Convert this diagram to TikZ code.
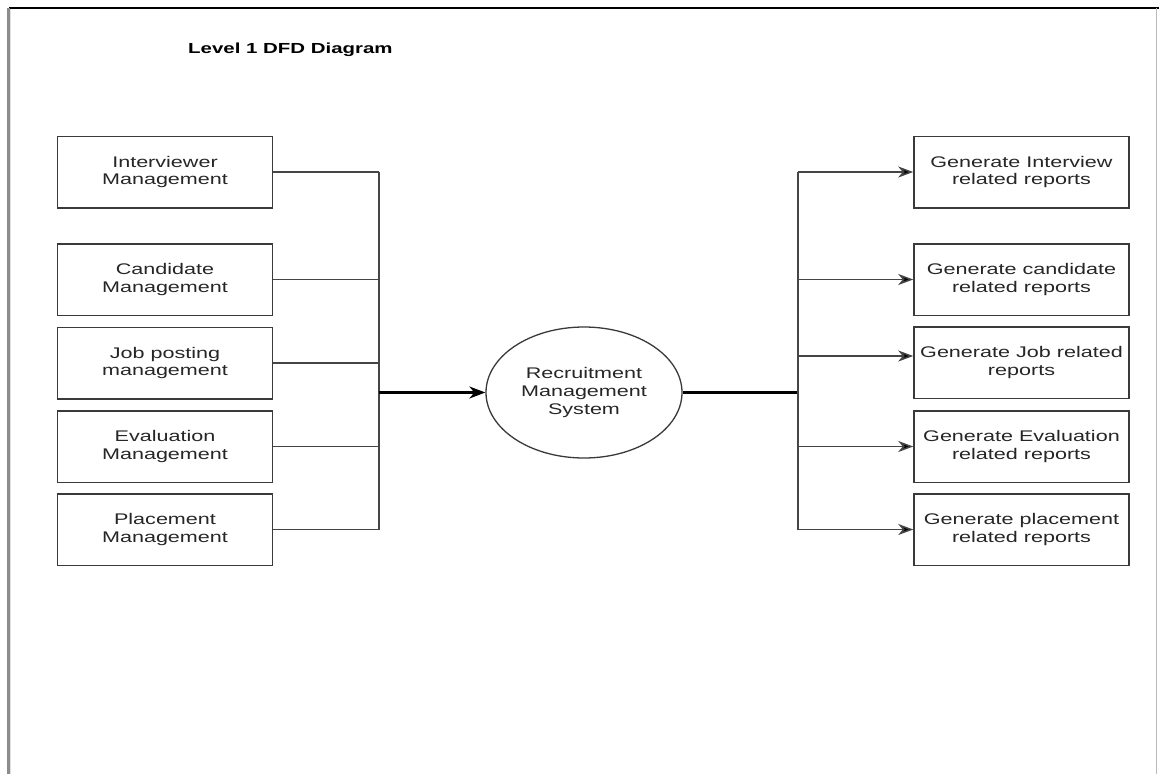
\documentclass[tikz,border=0pt]{standalone}
\usepackage{fontspec}
\setmainfont{Liberation Sans}[FakeStretch=1.4]
\usetikzlibrary{shapes.geometric,arrows.meta}
\definecolor{ink}{HTML}{262626}
\definecolor{edge}{HTML}{3A3A3A}
\definecolor{wire}{HTML}{454545}
\begin{document}
\begin{tikzpicture}[x=1pt,y=-1pt,
  procbox/.style={draw=edge,line width=1.5pt,minimum width=215pt,minimum height=71.5pt,
    inner sep=0pt,align=center,text=ink,font=\fontsize{15.4}{17.7}\selectfont},
  hub/.style={ellipse,draw=edge,line width=1.3pt,minimum width=196pt,minimum height=131pt,
    inner sep=0pt,align=center,text=ink,font=\fontsize{15.4}{17.7}\selectfont},
  wireline/.style={draw=wire,line width=1.5pt},
  feed/.style={wireline,-{Stealth[length=15pt,width=11pt,inset=4.5pt,fill=black]}},
  mainline/.style={draw=black,line width=2.2pt},
  mainfeed/.style={mainline,-{Stealth[length=16pt,width=12pt,inset=5pt]}}]
  \useasboundingbox (0,0) rectangle (1159,774);
  % page frame
  \fill[white] (0,0) rectangle (1159,774);
  \draw[black,line width=1.6pt] (9,8) -- (1159,8);
  \draw[gray!90,line width=3pt] (8.5,8) -- (8.5,774);
  \draw[gray!25,line width=1pt] (10.5,9) -- (10.5,774);
  \draw[gray!55,line width=0.8pt] (1156.5,8) -- (1156.5,774);

  % title
  \node[anchor=base west,inner sep=0pt,font=\fontsize{14.6}{17}\selectfont\bfseries,text=black]
    (title) at (188,53) {Level 1 DFD Diagram};

  % source processes
  \node[procbox] (lb1) at (165,172)   {Interviewer\\Management};
  \node[procbox] (lb2) at (165,279.5) {Candidate\\Management};
  \node[procbox] (lb3) at (165,363)   {Job posting\\management};
  \node[procbox] (lb4) at (165,446.5) {Evaluation\\Management};
  \node[procbox] (lb5) at (165,529.5) {Placement\\Management};

  % central system
  \node[hub] (rms) at (584,392.5) {Recruitment\\Management\\System};

  % report processes
  \node[procbox] (rb1) at (1021.5,172)   {Generate Interview\\related reports};
  \node[procbox] (rb2) at (1021.5,279.5) {Generate candidate\\related reports};
  \node[procbox] (rb3) at (1021.5,362.5) {Generate Job related\\reports};
  \node[procbox] (rb4) at (1021.5,446.5) {Generate Evaluation\\related reports};
  \node[procbox] (rb5) at (1021.5,529.5) {Generate placement\\related reports};

  % bus junctions
  \coordinate (busL) at (379,392.5);
  \coordinate (busR) at (798,392.5);
  \coordinate (jobIn) at ([yshift=6.5pt]rb3.west);

  % inputs gathered on the left bus
  \foreach \b in {lb1,lb2,lb3,lb4,lb5}
    \draw[wireline] (\b.east) -- (\b.east -| busL);
  \draw[wireline] (busL |- lb1.east) -- (busL |- lb5.east);
  \draw[mainfeed] (busL) -- (rms.west);

  % outputs fanned out from the right bus
  \draw[mainline] (rms.east) -- (busR);
  \draw[wireline] (busR |- rb1.west) -- (busR |- rb5.west);
  \foreach \b in {rb1,rb2,rb4,rb5}
    \draw[feed] (busR |- \b.west) -- (\b.west);
  \draw[feed] (busR |- jobIn) -- (jobIn);
\end{tikzpicture}
\end{document}
